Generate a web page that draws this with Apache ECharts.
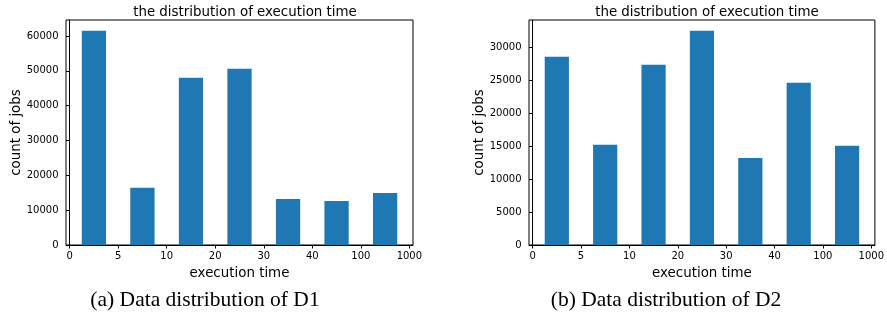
<!DOCTYPE html>
<html lang="en">

<head>
    <meta charset="UTF-8">
    <title>the distribution of execution time</title>
    <script src="https://cdn.jsdelivr.net/npm/echarts@6/dist/echarts.min.js"></script>
    <style>
        body { margin: 0; background: #fff; }
    </style>
</head>

<body>
    <div id="main" style="width: 887px;height:322px;"></div>
    <script type="text/javascript">
        // bin edges shown as tick labels
        var xTickLabels = ['0', '5', '10', '20', '30', '40', '100', '1000'];
        // bars sit between the edges, at index + 0.5
        var binCenters = [0.5, 1.5, 2.5, 3.5, 4.5, 5.5, 6.5];
        // count of jobs per bin
        var countsD1 = [61500, 16400, 48000, 50600, 13200, 12650, 14950];
        var countsD2 = [28550, 15200, 27350, 32500, 13200, 24600, 15050];
        // y tick labels
        var yTicksD1 = [0, 10000, 20000, 30000, 40000, 50000, 60000];
        var yTicksD2 = [0, 5000, 10000, 15000, 20000, 25000, 30000];

        var font = 'DejaVu Sans';
        var barColor = '#1f77b4';

        function pairs(values) {
            return values.map(function (v, i) { return [binCenters[i], v]; });
        }

        function xAxisOf(gridIndex) {
            return {
                type: 'value', gridIndex: gridIndex,
                min: -0.075, max: 7.075,
                name: 'execution time', nameLocation: 'middle', nameGap: 22, nameMoveOverlap: false,
                nameTextStyle: { fontFamily: font, fontSize: 13.4, color: '#000' },
                splitLine: { show: false },
                axisLine: { lineStyle: { color: '#000', width: 1 } },
                axisTick: { length: 3.5, lineStyle: { color: '#000' }, customValues: [0, 1, 2, 3, 4, 5, 6, 7] },
                axisLabel: {
                    fontFamily: font, fontSize: 10, color: '#000', margin: 6,
                    customValues: [0, 1, 2, 3, 4, 5, 6, 7],
                    formatter: function (v) { return xTickLabels[Math.round(v)]; }
                }
            };
        }

        function yAxisOf(gridIndex, maxVal, ticks) {
            return {
                type: 'value', gridIndex: gridIndex,
                min: 0, max: maxVal,
                name: 'count of jobs', nameLocation: 'middle', nameGap: 43, nameMoveOverlap: false,
                nameTextStyle: { fontFamily: font, fontSize: 13.4, color: '#000' },
                splitLine: { show: false },
                axisLine: { show: true, lineStyle: { color: '#000', width: 1 } },
                axisTick: { show: true, length: 3.5, lineStyle: { color: '#000' }, customValues: ticks },
                axisLabel: {
                    fontFamily: font, fontSize: 10, color: '#000', margin: 7.5, customValues: ticks,
                    formatter: function (v) { return String(v); }
                }
            };
        }

        var myChart = echarts.init(document.getElementById('main'));

        var option = {
            animation: false,
            title: [
                { text: 'the distribution of execution time', left: 240, top: 1, textAlign: 'center',
                  textStyle: { fontFamily: font, fontSize: 13.4, fontWeight: 'normal', color: '#000' } },
                { text: 'the distribution of execution time', left: 702, top: 1, textAlign: 'center',
                  textStyle: { fontFamily: font, fontSize: 13.4, fontWeight: 'normal', color: '#000' } },
                { text: '(a) Data distribution of D1', left: 200, top: 284, textAlign: 'center',
                  textStyle: { fontFamily: 'Liberation Serif', fontSize: 21.5, fontWeight: 'normal', color: '#000' } },
                { text: '(b) Data distribution of D2', left: 661, top: 284, textAlign: 'center',
                  textStyle: { fontFamily: 'Liberation Serif', fontSize: 21.5, fontWeight: 'normal', color: '#000' } }
            ],
            grid: [
                { left: 66, top: 20, width: 347, height: 225, show: true, borderColor: '#000', borderWidth: 1 },
                { left: 529, top: 20, width: 346, height: 225, show: true, borderColor: '#000', borderWidth: 1 }
            ],
            xAxis: [xAxisOf(0), xAxisOf(1)],
            yAxis: [yAxisOf(0, 64575, yTicksD1), yAxisOf(1, 34125, yTicksD2)],
            series: [
                { type: 'bar', xAxisIndex: 0, yAxisIndex: 0, data: pairs(countsD1),
                  barWidth: '50%', itemStyle: { color: barColor } },
                { type: 'bar', xAxisIndex: 1, yAxisIndex: 1, data: pairs(countsD2),
                  barWidth: '50%', itemStyle: { color: barColor } }
            ]
        };

        myChart.setOption(option);
    </script>
</body>

</html>
